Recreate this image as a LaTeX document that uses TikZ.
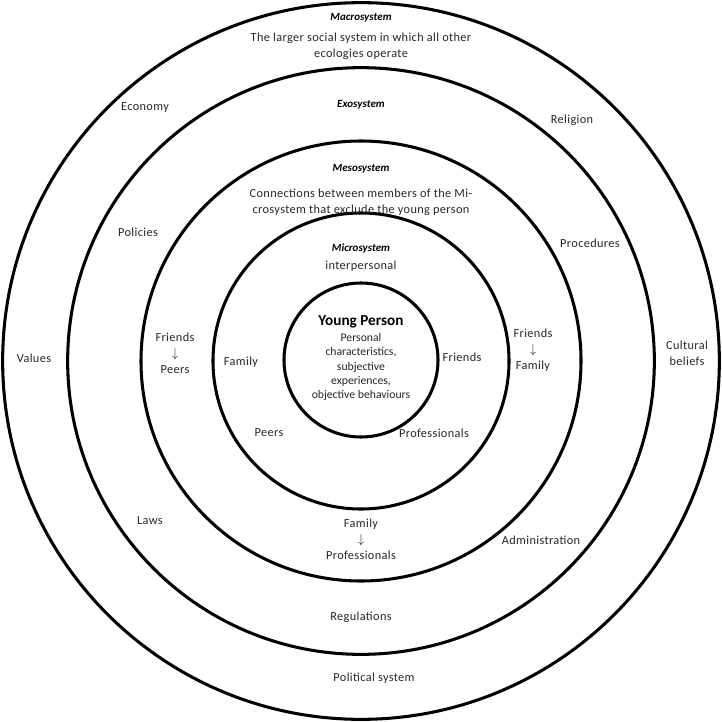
\documentclass[tikz,border=0pt]{standalone}
\usepackage{fontspec}
\setmainfont{Carlito}
\newfontfamily\spaced{Carlito}[LetterSpace=3]

\begin{document}
\begin{tikzpicture}[
    x=0.03cm, y=-0.03cm,
    ring/.style={draw, circle, line width=2.6pt, inner sep=0pt},
    title/.style={font=\fontsize{9.4}{14}\selectfont\bfseries\itshape},
    label/.style={font=\spaced\fontsize{10.5}{13.5}\selectfont,
        align=center, text=black!85, inner sep=1pt},
    inner/.style={font=\fontsize{10}{12.2}\selectfont,
        align=center, text=black!85, inner sep=1pt}
]
\useasboundingbox (0,0) rectangle (722,722);

% Rings from outside in (0.03cm per pixel)
\node[ring, minimum size=21.5cm]  (macro) at (361,361) {};
\node[ring, minimum size=17.6cm]  (exo)   at (361,361) {};
\node[ring, minimum size=13.2cm]  (meso)  at (361,361) {};
\node[ring, minimum size=8.88cm]  (micro) at (361,361) {};
\node[ring, minimum size=4.62cm]  (self)  at (361,360) {};

% Titles
\node[title] (tmacro) at (361,18)  {Macrosystem};
\node[title] (texo)   at (361,105) {Exosystem};
\node[title] (tmeso)  at (361,169) {Mesosystem};
\node[title] (tmicro) at (361,248) {Microsystem};
\node[font=\fontsize{13}{14}\selectfont\bfseries] (tself) at (361,322) {Young Person};

% Descriptions
\node[label] (dmacro) at (361,46)
    {The larger social system in which all other\\ecologies operate};
\node[label] (dmeso) at (361,202)
    {Connections between members of the Mi-\\crosystem that exclude the young person};
\node[label] (dmicro) at (361,266) {interpersonal};
\node[inner] (dself) at (361,367)
    {Personal\\characteristics,\\subjective\\experiences,\\objective behaviours};

% Macrosystem ring
\node[label] (economy)  at (145,108) {Economy};
\node[label] (religion) at (572,120) {Religion};
\node[label] (values)   at (34,358)  {Values};
\node[label] (cultural) at (687,353) {Cultural\\beliefs};
\node[label] (politics) at (374,678) {Political system};

% Exosystem ring
\node[label] (policies) at (138,232) {Policies};
\node[label] (procs)    at (590,243) {Procedures};
\node[label] (laws)     at (150,521) {Laws};
\node[label] (admin)    at (541,540) {Administration};
\node[label] (regs)     at (361,617) {Regulations};

% Mesosystem ring
\node[label] (frpeers) at (175,353) {Friends\\$\downarrow$\\Peers};
\node[label] (frfam)   at (533,350) {Friends\\$\downarrow$\\Family};
\node[label] (fampro)  at (361,539) {Family\\$\downarrow$\\Professionals};

% Microsystem ring
\node[label] (family)  at (241,362) {Family};
\node[label] (friends) at (462,357) {Friends};
\node[label] (peers)   at (269,433) {Peers};
\node[label] (profs)   at (434,433) {Professionals};

\end{tikzpicture}
\end{document}
